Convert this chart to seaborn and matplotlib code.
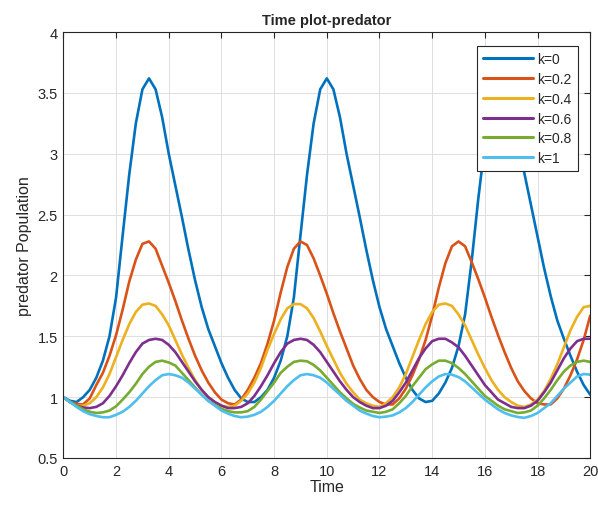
import numpy as np
import pandas as pd
import matplotlib
matplotlib.use("Agg")
import matplotlib.pyplot as plt
import seaborn as sns
from matplotlib.ticker import FuncFormatter

# Time grid (step 0.25) and predator populations
time = np.linspace(0, 20, 81)

k0 = [1.00, 0.97, 0.96, 1.00, 1.06, 1.16, 1.30, 1.50,
      1.82, 2.33, 2.83, 3.25, 3.53, 3.62, 3.53, 3.30,
      3.00, 2.74, 2.48, 2.21, 1.96, 1.74, 1.56, 1.42,
      1.28, 1.16, 1.06, 0.99, 0.96, 0.96, 1.00, 1.06,
      1.16, 1.30, 1.50, 1.82, 2.33, 2.83, 3.25, 3.53,
      3.62, 3.53, 3.30, 3.00, 2.74, 2.48, 2.21, 1.96,
      1.74, 1.56, 1.42, 1.28, 1.16, 1.06, 0.99, 0.96,
      0.97, 1.03, 1.12, 1.24, 1.42, 1.68, 2.12, 2.63,
      3.08, 3.43, 3.60, 3.58, 3.40, 3.12, 2.84, 2.58,
      2.32, 2.06, 1.83, 1.63, 1.48, 1.34, 1.21, 1.10,
      1.02]

k02 = [1.00, 0.96, 0.945, 0.94, 0.99, 1.10, 1.20, 1.34,
       1.51, 1.72, 1.95, 2.13, 2.26, 2.28, 2.22, 2.08,
       1.94, 1.79, 1.63, 1.48, 1.34, 1.22, 1.12, 1.04,
       0.98, 0.95, 0.94, 0.98, 1.06, 1.16, 1.28, 1.44,
       1.63, 1.86, 2.07, 2.22, 2.28, 2.25, 2.14, 2.00,
       1.85, 1.69, 1.54, 1.40, 1.26, 1.15, 1.06, 1.00,
       0.96, 0.94, 0.94, 0.99, 1.07, 1.18, 1.31, 1.47,
       1.67, 1.90, 2.10, 2.24, 2.28, 2.24, 2.11, 1.97,
       1.82, 1.66, 1.51, 1.37, 1.24, 1.13, 1.05, 0.99,
       0.95, 0.94, 0.94, 0.99, 1.07, 1.18, 1.31, 1.47,
       1.67]

k04 = [1.00, 0.96, 0.93, 0.93, 0.95, 1.00, 1.08, 1.19,
       1.33, 1.47, 1.60, 1.70, 1.76, 1.77, 1.75, 1.68,
       1.59, 1.47, 1.35, 1.24, 1.14, 1.06, 1.00, 0.96,
       0.93, 0.92, 0.93, 0.97, 1.03, 1.12, 1.24, 1.39,
       1.52, 1.64, 1.73, 1.765, 1.765, 1.73, 1.65, 1.54,
       1.42, 1.31, 1.20, 1.11, 1.04, 0.98, 0.95, 0.93,
       0.92, 0.95, 1.00, 1.08, 1.19, 1.33, 1.47, 1.60,
       1.70, 1.76, 1.77, 1.75, 1.68, 1.59, 1.47, 1.35,
       1.24, 1.14, 1.06, 1.00, 0.96, 0.93, 0.92, 0.94,
       0.98, 1.05, 1.15, 1.27, 1.41, 1.55, 1.66, 1.74,
       1.75]

k06 = [1.00, 0.96, 0.93, 0.915, 0.91, 0.92, 0.95, 1.01,
       1.09, 1.18, 1.28, 1.37, 1.44, 1.47, 1.48, 1.47,
       1.43, 1.37, 1.29, 1.21, 1.13, 1.06, 1.00, 0.96,
       0.93, 0.91, 0.91, 0.92, 0.95, 1.01, 1.09, 1.18,
       1.28, 1.37, 1.44, 1.47, 1.48, 1.47, 1.43, 1.37,
       1.29, 1.21, 1.13, 1.06, 1.00, 0.96, 0.93, 0.91,
       0.91, 0.93, 0.97, 1.04, 1.12, 1.22, 1.32, 1.40,
       1.46, 1.48, 1.48, 1.45, 1.41, 1.34, 1.26, 1.18,
       1.10, 1.04, 0.98, 0.95, 0.92, 0.91, 0.91, 0.93,
       0.97, 1.04, 1.12, 1.22, 1.32, 1.40, 1.46, 1.48,
       1.48]

k08 = [1.00, 0.96, 0.93, 0.90, 0.88, 0.87, 0.875, 0.89,
       0.925, 0.98, 1.04, 1.11, 1.19, 1.25, 1.29, 1.30,
       1.285, 1.26, 1.20, 1.14, 1.08, 1.02, 0.97, 0.935,
       0.905, 0.885, 0.875, 0.875, 0.885, 0.92, 0.98, 1.05,
       1.12, 1.20, 1.25, 1.29, 1.30, 1.295, 1.265, 1.22,
       1.16, 1.10, 1.04, 0.99, 0.945, 0.915, 0.89, 0.88,
       0.87, 0.88, 0.90, 0.95, 1.01, 1.09, 1.16, 1.23,
       1.27, 1.30, 1.30, 1.28, 1.24, 1.19, 1.13, 1.07,
       1.01, 0.97, 0.93, 0.90, 0.885, 0.87, 0.875, 0.89,
       0.93, 0.99, 1.06, 1.14, 1.21, 1.26, 1.29, 1.30,
       1.29]

k1 = [1.00, 0.96, 0.92, 0.885, 0.86, 0.845, 0.835, 0.835,
      0.855, 0.88, 0.92, 0.97, 1.03, 1.09, 1.14, 1.18,
      1.19, 1.18, 1.16, 1.12, 1.07, 1.02, 0.97, 0.93,
      0.89, 0.865, 0.845, 0.835, 0.84, 0.855, 0.88, 0.92,
      0.97, 1.03, 1.09, 1.14, 1.18, 1.19, 1.18, 1.16,
      1.12, 1.07, 1.02, 0.97, 0.93, 0.89, 0.865, 0.845,
      0.835, 0.84, 0.85, 0.875, 0.91, 0.96, 1.02, 1.08,
      1.13, 1.17, 1.19, 1.185, 1.165, 1.13, 1.08, 1.03,
      0.98, 0.94, 0.90, 0.87, 0.85, 0.837, 0.83, 0.845,
      0.87, 0.91, 0.95, 1.01, 1.07, 1.12, 1.17, 1.19,
      1.185]

labels = ["k=0", "k=0.2", "k=0.4", "k=0.6", "k=0.8", "k=1"]
series = [k0, k02, k04, k06, k08, k1]
colors = ["#0072BD", "#D95319", "#EDB120", "#7E2F8E", "#77AC30", "#4DBEEE"]

df = pd.concat(
    [pd.DataFrame({"Time": time, "Population": vals, "k": lab})
     for lab, vals in zip(labels, series)],
    ignore_index=True,
)

sns.set_style("whitegrid")
plt.rcParams["font.family"] = ["Liberation Sans", "DejaVu Sans"]

fig = plt.figure(figsize=(5.98, 5.10), dpi=100)
ax = fig.add_axes([0.106, 0.1, 0.881, 0.835])

sns.lineplot(data=df, x="Time", y="Population", hue="k", hue_order=labels,
             palette=colors, linewidth=1.9, ax=ax)

ax.set_xlim(0, 20)
ax.set_ylim(0.5, 4)
ax.set_xticks(np.arange(0, 21, 2))
ax.set_yticks(np.arange(0.5, 4.01, 0.5))
ax.yaxis.set_major_formatter(FuncFormatter(lambda v, p: f"{v:g}"))

ax.grid(True, color="#dedede", linewidth=0.7)
for sp in ax.spines.values():
    sp.set_color("#262626")
    sp.set_linewidth(0.8)
ax.tick_params(direction="in", length=4, width=0.8, top=True, right=True,
               labelsize=10.5, colors="#262626", labelcolor="#262626", pad=4)

ax.set_xlabel("Time", fontsize=11.5, color="#262626", labelpad=1)
ax.set_ylabel("predator Population", fontsize=11.5, color="#262626", labelpad=4)
ax.set_title("Time plot-predator", fontsize=10.5, fontweight="bold", pad=6)

handles, labs = ax.get_legend_handles_labels()
leg = ax.legend(handles, labs, loc="upper right", bbox_to_anchor=(0.976, 0.968),
                fontsize=10, handlelength=3.6, handletextpad=0.25,
                labelspacing=0.42, borderpad=0.45, frameon=True, fancybox=False,
                framealpha=1, borderaxespad=0)
leg.get_frame().set_edgecolor("#262626")
leg.get_frame().set_linewidth(0.8)
for line in leg.get_lines():
    line.set_linewidth(2.2)

fig.savefig("out.png", dpi=100)
